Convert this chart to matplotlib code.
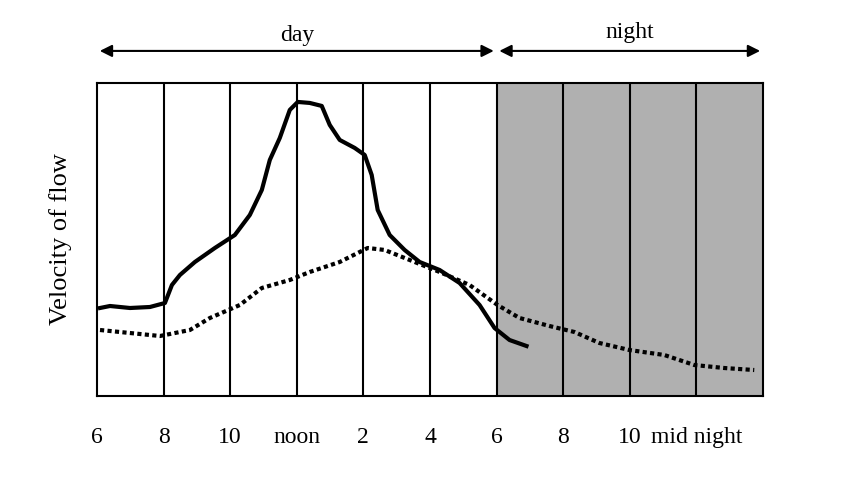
import matplotlib
matplotlib.use('Agg')
import matplotlib.pyplot as plt

plt.rcParams['font.family'] = ['Liberation Serif', 'DejaVu Serif']

# hours since midnight (6 = 6am ... 26 = 2am), velocity in arbitrary units
solid_h = [6.09, 6.39, 6.99, 7.59, 8.04, 8.25, 8.49, 8.94, 9.54, 10.14, 10.59, 10.95,
           11.19, 11.49, 11.79, 12.03, 12.39, 12.75, 12.99, 13.29, 13.74, 14.04, 14.25,
           14.43, 14.79, 15.24, 15.69, 16.29, 16.89, 17.49, 17.94, 18.39, 18.90]
solid_v = [88, 90, 88, 89, 93, 111, 121, 134, 148, 161, 181, 206, 236, 258, 286, 294,
           293, 290, 271, 256, 248, 241, 221, 186, 161, 146, 134, 126, 113, 91, 68, 56, 50]
dot_h = [6.09, 6.99, 7.89, 8.79, 9.39, 10.29, 10.95, 11.79, 12.39, 13.29, 14.13, 14.64,
         15.39, 16.29, 17.19, 18.03, 18.69, 19.59, 20.34, 21.09, 21.99, 23.04, 23.94,
         24.84, 25.74]
dot_v = [66, 63, 60, 66, 78, 91, 108, 116, 124, 134, 148, 146, 136, 124, 111, 91, 78,
         70, 64, 53, 46, 41, 31, 28, 26]
tick_hours = [6, 8, 10, 12, 14, 16, 18, 20, 22, 24]
tick_labels = ['6', '8', '10', 'noon', '2', '4', '6', '8', '10', 'mid night']

fig = plt.figure(figsize=(8.57, 4.78), dpi=100)
ax = fig.add_axes([0.1132, 0.1715, 0.777, 0.655])
ax.axvspan(18, 26, color='#b0b0b0', zorder=0)
for h in range(8, 26, 2):
    ax.axvline(h, color='black', lw=1.5, zorder=1)
ax.plot(solid_h, solid_v, color='black', lw=3, zorder=3)
ax.plot(dot_h, dot_v, color='black', lw=3, ls=(0, (1, 0.8)), zorder=3)
ax.set_xlim(6, 26)
ax.set_ylim(0, 313)
ax.set_xticks(tick_hours)
ax.set_xticklabels(tick_labels, fontsize=17)
ax.tick_params(axis='x', length=0, pad=22)
ax.set_yticks([])
for s in ax.spines.values():
    s.set_linewidth(1.5)
ax.set_ylabel('Velocity of flow', fontsize=19, labelpad=18)

arrow_y = 345
ax.annotate('', xy=(6, arrow_y), xytext=(18, arrow_y), annotation_clip=False,
            arrowprops=dict(arrowstyle='<|-|>', color='black', lw=1.5, mutation_scale=18))
ax.annotate('', xy=(18, arrow_y), xytext=(26, arrow_y), annotation_clip=False,
            arrowprops=dict(arrowstyle='<|-|>', color='black', lw=1.5, mutation_scale=18))
ax.text(12, arrow_y + 5, 'day', ha='center', va='bottom', fontsize=17)
ax.text(22, arrow_y + 8, 'night', ha='center', va='bottom', fontsize=17)

fig.savefig('out.png', dpi=100)
